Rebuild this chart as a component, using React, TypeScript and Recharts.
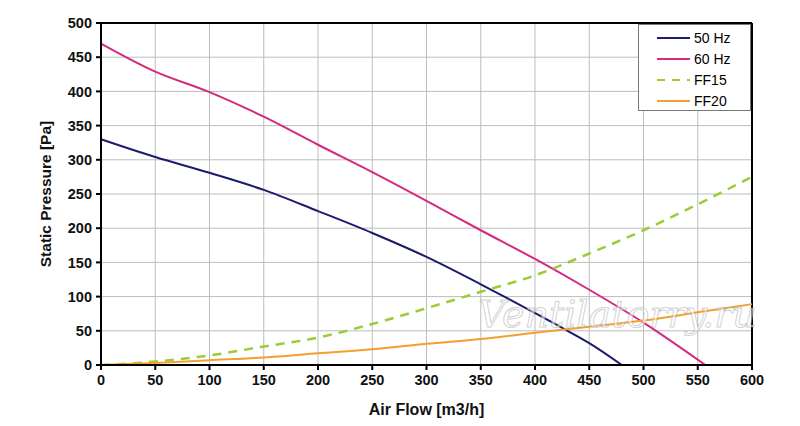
import { LineChart, Line, XAxis, YAxis, CartesianGrid, ReferenceLine } from 'recharts';

const flowTicks = [0, 50, 100, 150, 200, 250, 300, 350, 400, 450, 500, 550, 600];
const pressureTicks = [0, 50, 100, 150, 200, 250, 300, 350, 400, 450, 500];

const hz50Flow = [0, 50, 100, 150, 200, 250, 300, 350, 400, 430, 450, 480];
const hz50Pressure = [330, 304, 281, 256, 225, 193, 158, 118, 76, 50, 32, 0];

const hz60Flow = [0, 50, 100, 150, 200, 250, 300, 350, 400, 450, 500, 557];
const hz60Pressure = [470, 429, 399, 363, 322, 282, 240, 197, 155, 110, 62, 0];

const ff15Flow = [0, 50, 100, 150, 200, 250, 300, 350, 400, 450, 500, 550, 600];
const ff15Pressure = [0, 5, 14, 27, 40, 60, 83, 107, 131, 163, 197, 235, 275];

const ff20Flow = [0, 50, 100, 150, 200, 250, 300, 350, 400, 450, 500, 550, 600];
const ff20Pressure = [0, 3, 7, 11, 17, 23, 31, 38, 47, 56, 65, 77, 89];

const seriesNames = ['50 Hz', '60 Hz', 'FF15', 'FF20'];
const seriesColors = ['#1c1c6e', '#d42a80', '#9ccc34', '#f2a030'];

const zip = (xs: number[], ys: number[]) => xs.map((x, i) => ({ flow: x, pressure: ys[i] }));

const series = [
  { data: zip(hz50Flow, hz50Pressure), dash: undefined },
  { data: zip(hz60Flow, hz60Pressure), dash: undefined },
  { data: zip(ff15Flow, ff15Pressure), dash: '9 7' },
  { data: zip(ff20Flow, ff20Pressure), dash: undefined },
];

const font = '"Liberation Sans", Arial, sans-serif';

function LegendBox() {
  return (
    <div
      style={{
        position: 'absolute',
        left: 638,
        top: 24,
        width: 113,
        height: 87,
        background: '#fff',
        border: '1px solid #777',
        boxSizing: 'border-box',
        padding: '2px 0 0 18px',
        fontFamily: font,
        fontSize: 14,
        color: '#000',
      }}
    >
      {seriesNames.map((name, i) => (
        <div key={name} style={{ display: 'flex', alignItems: 'center', height: 21 }}>
          <svg width={33} height={4} style={{ marginRight: 4 }}>
            <line
              x1={0}
              y1={2}
              x2={33}
              y2={2}
              stroke={seriesColors[i]}
              strokeWidth={2}
              strokeDasharray={series[i].dash ? '8 7' : undefined}
            />
          </svg>
          <span>{name}</span>
        </div>
      ))}
    </div>
  );
}

export default function App() {
  return (
    <div style={{ position: 'relative', width: 800, height: 426, background: '#fff' }}>
      <style>{`body{margin:0}`}</style>
      <LineChart
        width={800}
        height={426}
        margin={{ top: 23, right: 48, bottom: 11, left: 41 }}
      >
        <CartesianGrid stroke="#bdbdbd" strokeWidth={1} />
        <XAxis
          dataKey="flow"
          type="number"
          domain={[0, 600]}
          ticks={flowTicks}
          allowDuplicatedCategory={false}
          height={50}
          stroke="#000"
          strokeWidth={2}
          tickSize={5}
          tick={{ fill: '#111', fontSize: 14.5, fontWeight: 'bold', fontFamily: font }}
          tickMargin={5}
          label={{
            value: 'Air Flow [m3/h]',
            position: 'insideBottom',
            offset: 0,
            fill: '#111',
            fontSize: 16,
            fontWeight: 'bold',
            fontFamily: font,
          }}
        />
        <YAxis
          dataKey="pressure"
          type="number"
          domain={[0, 500]}
          ticks={pressureTicks}
          width={60}
          stroke="#000"
          strokeWidth={2}
          tickSize={5}
          tick={{ fill: '#111', fontSize: 14.5, fontWeight: 'bold', fontFamily: font }}
          tickMargin={4}
          label={{
            value: 'Static Pressure [Pa]',
            angle: -90,
            position: 'insideLeft',
            offset: 4,
            style: { textAnchor: 'middle' },
            fill: '#111',
            fontSize: 15.5,
            fontWeight: 'bold',
            fontFamily: font,
          }}
        />
        <ReferenceLine y={500} stroke="#000" strokeWidth={2} />
        <ReferenceLine x={600} stroke="#000" strokeWidth={2} />
        {series.map((s, i) => (
          <Line
            key={seriesNames[i]}
            name={seriesNames[i]}
            data={s.data}
            dataKey="pressure"
            type="monotone"
            stroke={seriesColors[i]}
            strokeWidth={i === 2 ? 2.5 : 2}
            strokeDasharray={s.dash}
            dot={false}
            isAnimationActive={false}
          />
        ))}
      </LineChart>
      <LegendBox />
      <div
        style={{
          position: 'absolute',
          left: 478,
          top: 292,
          fontFamily: '"DejaVu Serif", serif',
          fontStyle: 'italic',
          fontSize: 38,
          color: 'rgba(255,255,255,0.55)',
          WebkitTextStroke: '1px rgba(150,150,150,0.45)',
          pointerEvents: 'none',
        }}
      >
        Ventilatorry.ru
      </div>
    </div>
  );
}
